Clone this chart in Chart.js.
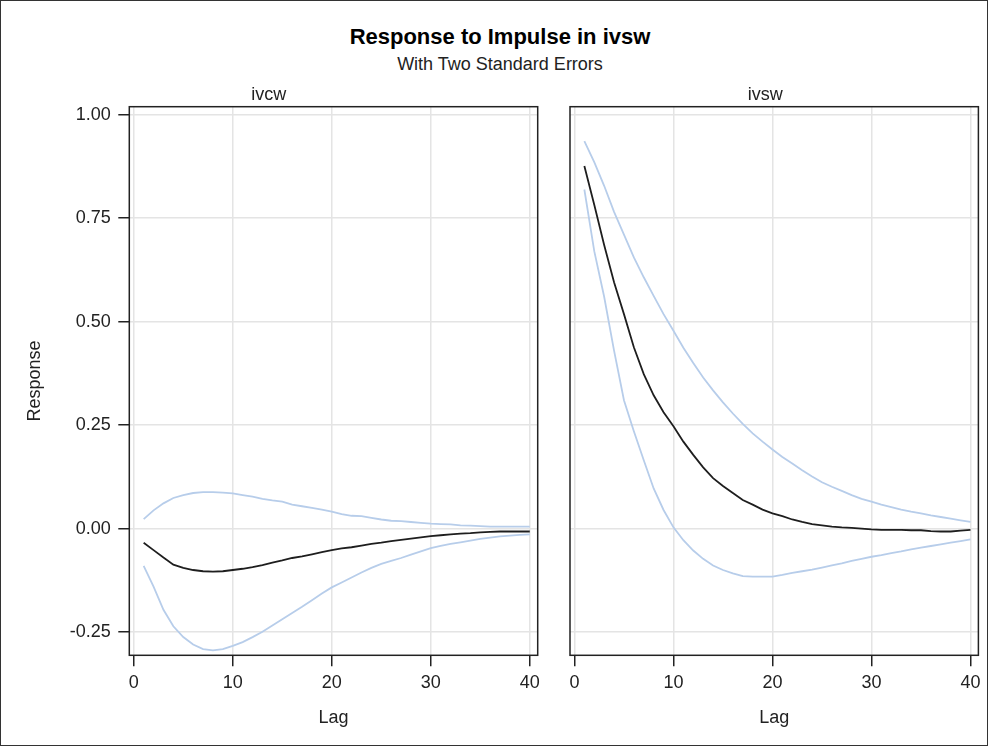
<!DOCTYPE html>
<html>
<head>
<meta charset="utf-8">
<title>Response to Impulse in ivsw</title>
<script src="https://cdn.jsdelivr.net/npm/chart.js@4.4.1/dist/chart.umd.min.js"></script>
<style>
  html, body { margin: 0; padding: 0; background: #fff; }
  #page { position: relative; width: 988px; height: 746px; overflow: hidden; font-family: "Liberation Sans", Arial, sans-serif; }
  #frame { position: absolute; left: 0; top: 0; width: 988px; height: 746px; box-sizing: border-box; border: 1px solid #333; pointer-events: none; }
  .title { position: absolute; left: 6px; width: 988px; text-align: center; }
  #title { top: 24px; font-size: 22px; font-weight: bold; line-height: 26px; color: #000; }
  #subtitle { top: 53px; font-size: 18px; line-height: 22px; color: #222; }
  canvas { position: absolute; top: 0; }
</style>
</head>
<body>
<div id="page">
  <div id="title" class="title">Response to Impulse in ivsw</div>
  <div id="subtitle" class="title">With Two Standard Errors</div>
  <canvas id="leftPanel" width="552" height="746" style="left:0"></canvas>
  <canvas id="rightPanel" width="436" height="746" style="left:552px"></canvas>
  <div id="frame"></div>
</div>
<script>
// Lags
const lags = [1, 2, 3, 4, 5, 6, 7, 8, 9, 10, 11, 12, 13, 14, 15, 16, 17, 18, 19, 20,
  21, 22, 23, 24, 25, 26, 27, 28, 29, 30, 31, 32, 33, 34, 35, 36, 37, 38, 39, 40];

// ivcw response to impulse in ivsw
const ivcwResponse = [-0.034, -0.052, -0.070, -0.087, -0.095, -0.100, -0.103, -0.104, -0.103, -0.100,
  -0.097, -0.093, -0.088, -0.082, -0.077, -0.071, -0.067, -0.062, -0.057, -0.052,
  -0.048, -0.045, -0.041, -0.037, -0.034, -0.030, -0.027, -0.024, -0.021, -0.018,
  -0.016, -0.014, -0.012, -0.011, -0.009, -0.008, -0.007, -0.007, -0.007, -0.007];
const ivcwUpper = [0.023, 0.044, 0.061, 0.074, 0.081, 0.086, 0.088, 0.088, 0.087, 0.085,
  0.081, 0.077, 0.072, 0.068, 0.065, 0.058, 0.054, 0.050, 0.046, 0.041,
  0.035, 0.031, 0.030, 0.026, 0.022, 0.019, 0.018, 0.016, 0.014, 0.012,
  0.011, 0.010, 0.008, 0.007, 0.006, 0.005, 0.005, 0.005, 0.005, 0.005];
const ivcwLower = [-0.090, -0.140, -0.196, -0.236, -0.262, -0.280, -0.291, -0.294, -0.291, -0.283,
  -0.274, -0.262, -0.249, -0.234, -0.219, -0.204, -0.189, -0.173, -0.157, -0.142,
  -0.130, -0.118, -0.106, -0.095, -0.085, -0.078, -0.071, -0.063, -0.055, -0.047,
  -0.042, -0.037, -0.033, -0.029, -0.025, -0.022, -0.019, -0.017, -0.015, -0.014];

// ivsw response to impulse in ivsw
const ivswResponse = [0.876, 0.782, 0.685, 0.595, 0.518, 0.438, 0.373, 0.322, 0.281, 0.247,
  0.210, 0.178, 0.148, 0.122, 0.103, 0.086, 0.069, 0.058, 0.046, 0.037,
  0.030, 0.022, 0.016, 0.011, 0.008, 0.005, 0.003, 0.002, 0.000, -0.002,
  -0.003, -0.003, -0.003, -0.004, -0.004, -0.006, -0.007, -0.007, -0.005, -0.003];
const ivswUpper = [0.936, 0.885, 0.828, 0.765, 0.710, 0.655, 0.607, 0.562, 0.518, 0.478,
  0.437, 0.400, 0.365, 0.334, 0.305, 0.278, 0.253, 0.230, 0.210, 0.191,
  0.173, 0.157, 0.141, 0.126, 0.112, 0.101, 0.091, 0.081, 0.072, 0.065,
  0.058, 0.052, 0.046, 0.041, 0.037, 0.032, 0.028, 0.024, 0.020, 0.016];
const ivswLower = [0.819, 0.670, 0.560, 0.430, 0.310, 0.235, 0.165, 0.097, 0.045, 0.003,
  -0.028, -0.053, -0.073, -0.089, -0.100, -0.108, -0.115, -0.116, -0.116, -0.116,
  -0.112, -0.107, -0.103, -0.099, -0.094, -0.089, -0.084, -0.078, -0.073, -0.068,
  -0.064, -0.059, -0.055, -0.050, -0.046, -0.042, -0.038, -0.034, -0.030, -0.026];

// Tick labels
const xTicks = [0, 10, 20, 30, 40];
const yTicks = [-0.25, 0, 0.25, 0.5, 0.75, 1];

const family = '"Liberation Sans", Arial, sans-serif';
const textColor = '#222';
const gridColor = '#e4e4e4';
const bandColor = '#b7cdea';

// box around the plot area
const framePlugin = {
  id: 'frame',
  afterDraw(chart) {
    const { ctx, chartArea: a } = chart;
    ctx.save();
    ctx.strokeStyle = '#222';
    ctx.lineWidth = 1.5;
    ctx.strokeRect(a.left, a.top, a.right - a.left, a.bottom - a.top);
    ctx.restore();
  }
};

function points(values) {
  return lags.map((lag, i) => ({ x: lag, y: values[i] }));
}

function line(values, color, width) {
  return {
    data: points(values),
    borderColor: color,
    borderWidth: width,
    pointRadius: 0,
    tension: 0,
    fill: false
  };
}

function makePanel(id, name, resp, upper, lower, showY, yWidth, padRight) {
  return new Chart(document.getElementById(id), {
    type: 'line',
    data: {
      datasets: [
        line(resp, '#1e1e1e', 1.8),
        line(upper, bandColor, 1.8),
        line(lower, bandColor, 1.8)
      ]
    },
    options: {
      responsive: false,
      animation: false,
      layout: { padding: { left: 0, right: padRight, top: 0, bottom: 0 } },
      plugins: {
        legend: { display: false },
        tooltip: { enabled: false },
        title: {
          display: true,
          text: name,
          color: textColor,
          font: { size: 18, family: family, weight: 'normal' },
          padding: { top: 84.5, bottom: 0.6 }
        }
      },
      scales: {
        x: {
          type: 'linear',
          min: -0.45,
          max: 40.8,
          afterBuildTicks: s => { s.ticks = xTicks.map(v => ({ value: v })); },
          afterFit: s => { s.height = 90.7; },
          ticks: { color: textColor, font: { size: 18, family: family }, padding: 6, maxRotation: 0 },
          grid: { color: gridColor, lineWidth: 1.5, tickLength: 11, tickColor: '#222', tickWidth: 1.5 },
          border: { display: false },
          title: {
            display: true, text: 'Lag', color: textColor,
            font: { size: 18, family: family }, padding: { top: 0, bottom: 17.2 }
          }
        },
        y: {
          type: 'linear',
          min: -0.306,
          max: 1.019,
          afterBuildTicks: s => { s.ticks = yTicks.map(v => ({ value: v })); },
          afterFit: s => { s.width = yWidth; },
          ticks: {
            display: showY,
            color: textColor,
            font: { size: 18, family: family },
            padding: 7.6,
            callback: v => v.toFixed(2)
          },
          grid: { color: gridColor, lineWidth: 1.5, drawTicks: showY, tickLength: 11, tickColor: '#222', tickWidth: 1.5 },
          border: { display: false },
          title: {
            display: showY, text: 'Response', color: textColor,
            font: { size: 18, family: family }, padding: { top: 24.2, bottom: 0 }
          }
        }
      }
    },
    plugins: [framePlugin]
  });
}

makePanel('leftPanel', 'ivcw', ivcwResponse, ivcwUpper, ivcwLower, true, 129.3, 14.3);
makePanel('rightPanel', 'ivsw', ivswResponse, ivswUpper, ivswLower, false, 18, 9.6);
</script>
</body>
</html>
